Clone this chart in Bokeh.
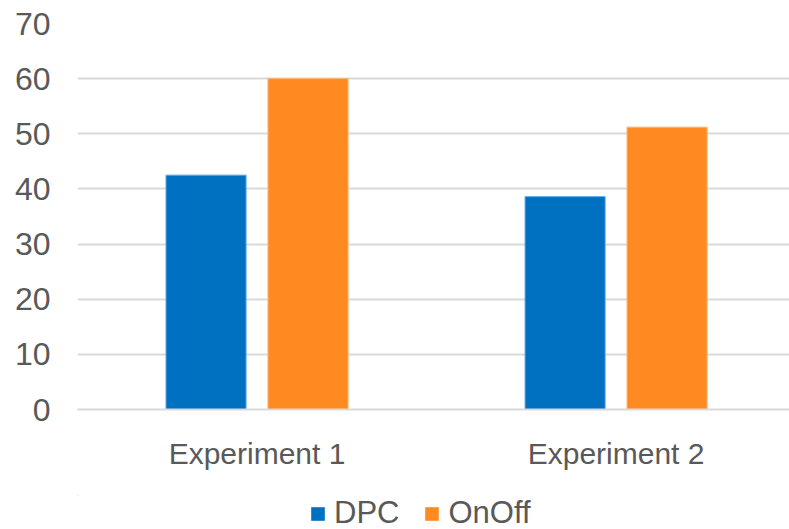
from bokeh.plotting import figure
from bokeh.models import ColumnDataSource, Range1d, FixedTicker, Legend, LegendItem
from bokeh.layouts import column
from bokeh.transform import dodge
from bokeh.embed import file_html
from bokeh.resources import INLINE

categories = ["Experiment 1", "Experiment 2"]
series_names = ["DPC", "OnOff"]
dpc = [42.5, 38.6]
onoff = [60.0, 51.2]
y_ticks = [0, 10, 20, 30, 40, 50, 60, 70]

colors = ["#0070C0", "#FF8A22"]
edge_colors = ["#5AA6E6", "#FFB36B"]
TEXT = "#595959"
FONT = "Liberation Sans"

xs = [i + 0.5 for i in range(len(categories))]
src = ColumnDataSource(dict(x=xs, DPC=dpc, OnOff=onoff))

p = figure(width=789, height=495, output_backend="svg", toolbar_location=None,
           x_range=Range1d(0, 1.983), y_range=Range1d(0, 70),
           min_border_left=77, min_border_top=23, min_border_right=0,
           min_border_bottom=86)
p.outline_line_color = None
p.background_fill_color = "white"
p.border_fill_color = "white"

for name, off, c, ec in zip(series_names, [-0.142, 0.142], colors, edge_colors):
    p.vbar(x=dodge("x", off, range=p.x_range), top=name, width=0.223, bottom=0,
           source=src, fill_color=c, line_color=ec, line_width=1)

p.xaxis.ticker = FixedTicker(ticks=xs)
p.xaxis.major_label_overrides = {x: c for x, c in zip(xs, categories)}
p.xaxis.major_tick_line_color = None
p.xaxis.minor_tick_line_color = None
p.xaxis.axis_line_color = "#D9D9D9"
p.xaxis.axis_line_width = 2
p.xaxis.major_label_standoff = 21
p.xaxis.major_label_text_font = FONT
p.xaxis.major_label_text_font_size = "30px"
p.xaxis.major_label_text_color = TEXT

p.yaxis.ticker = FixedTicker(ticks=y_ticks)
p.yaxis.major_tick_line_color = None
p.yaxis.minor_tick_line_color = None
p.yaxis.axis_line_color = None
p.yaxis.major_label_standoff = 21
p.yaxis.major_label_text_font = FONT
p.yaxis.major_label_text_font_size = "32px"
p.yaxis.major_label_text_color = TEXT

p.xgrid.grid_line_color = None
p.ygrid.grid_line_color = "#D9D9D9"
p.ygrid.grid_line_width = 2

# legend strip below the chart (its bars lie outside its visible ranges; only the legend shows)
lf = figure(width=789, height=34, output_backend="svg", toolbar_location=None,
            x_range=Range1d(10, 11), y_range=Range1d(-200, -100),
            x_axis_location=None, y_axis_location=None,
            min_border_left=0, min_border_right=0, min_border_top=0, min_border_bottom=0)
lf.outline_line_color = None
lf.xgrid.grid_line_color = None
lf.ygrid.grid_line_color = None
items = []
for name, c in zip(series_names, colors):
    r = lf.vbar(x="x", top=name, bottom=0, width=0.1, source=src,
                fill_color=c, line_color=c, line_alpha=0)
    items.append(LegendItem(label=name, renderers=[r]))
legend = Legend(items=items, orientation="horizontal", location=(232, -2),
                glyph_width=17, glyph_height=17, label_standoff=8, spacing=24,
                label_text_font=FONT, label_text_font_size="31px",
                label_text_color=TEXT, border_line_color=None,
                background_fill_alpha=0, padding=0, margin=0, label_height=20)
lf.add_layout(legend, "center")

layout = column(p, lf, spacing=0)
open("out.html", "w").write(file_html(layout, INLINE))
